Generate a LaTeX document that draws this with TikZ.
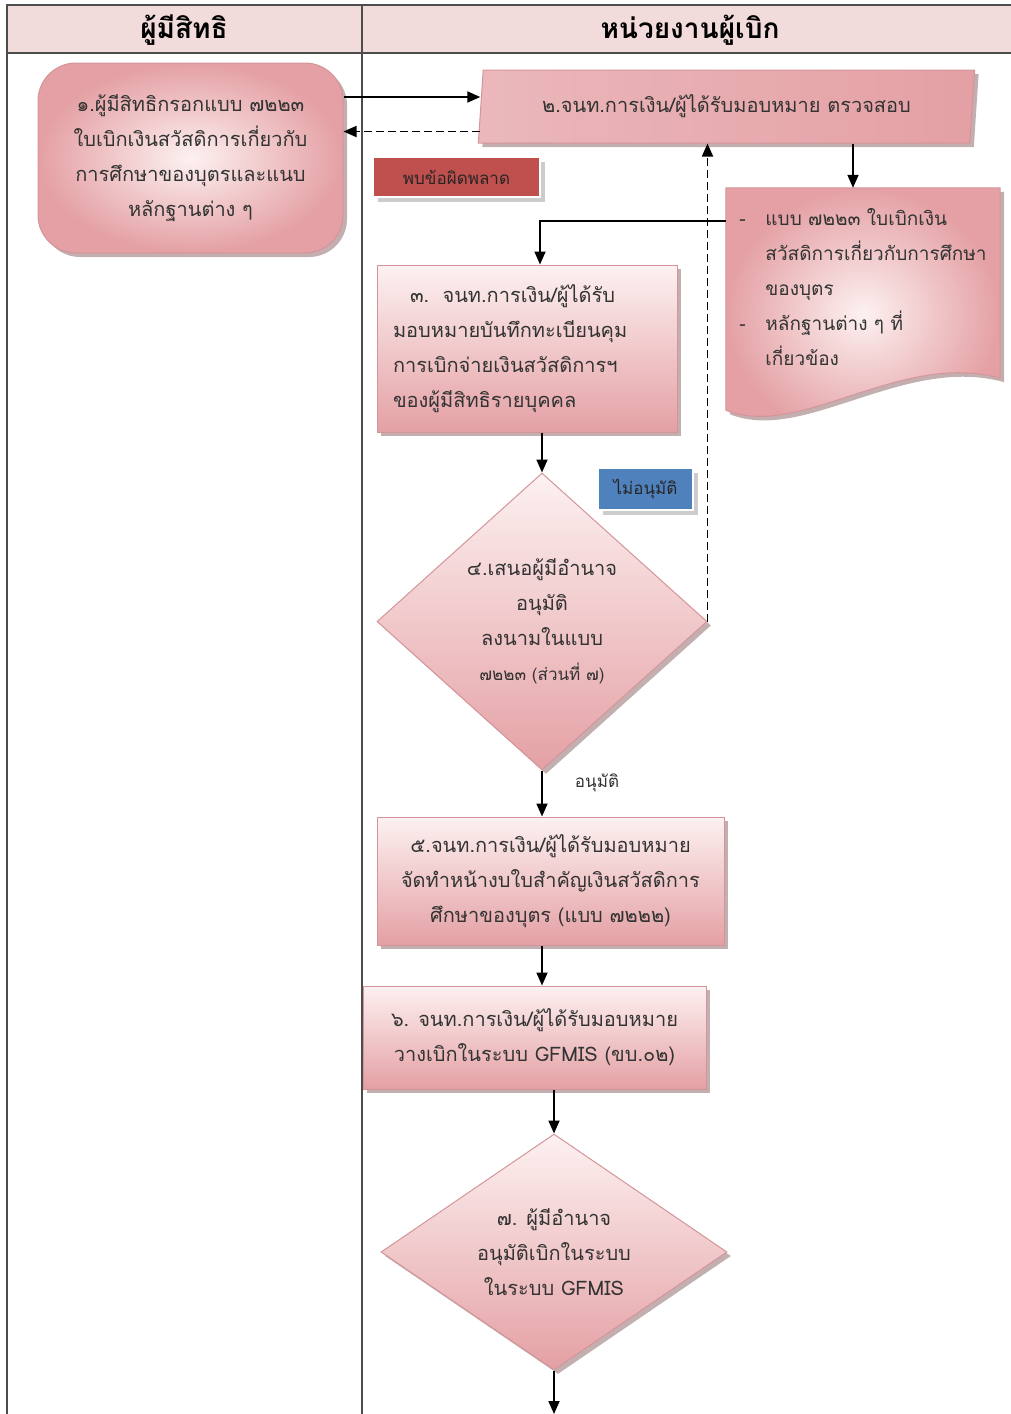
\documentclass[tikz,border=0pt]{standalone}
\usepackage{fontspec}
\setmainfont[Script=Thai]{Loma}
\usetikzlibrary{shapes.geometric,shadows,arrows.meta,backgrounds}
\definecolor{lanegray}{HTML}{4D4D4D}
\definecolor{headpink}{HTML}{F2DCDB}
\definecolor{pinkhi}{HTML}{FDF1F1}
\definecolor{pinklo}{HTML}{E4A0A4}
\definecolor{pinkline}{HTML}{D4959A}
\definecolor{errred}{HTML}{C0504D}
\definecolor{nogblue}{HTML}{4F81BD}
\definecolor{inkgray}{HTML}{333333}
\begin{document}
\begin{tikzpicture}[x=1pt, y=-1pt, >={Triangle[length=13pt,width=11pt]},
    box/.style={draw=pinkline, line width=1pt, top color=pinkhi, bottom color=pinklo, text=inkgray,
        font=\fontsize{20}{35}\selectfont, align=center,
        drop shadow={shadow xshift=4pt, shadow yshift=-4pt, fill=pinklo!60!black, opacity=.5}},
    decision/.style={box, diamond, inner sep=0pt},
    tag/.style={draw=white, line width=2pt, text=black!85, font=\fontsize{17}{20}\selectfont,
        drop shadow={shadow xshift=5pt, shadow yshift=-5pt, fill=black!40, opacity=.5}},
    flow/.style={->, line width=1.8pt},
    back/.style={flow, dash pattern=on 8pt off 4pt}]
\useasboundingbox (0,0) rectangle (1011,1414);
\fill[headpink] (7,5) rectangle (1011,53);
\draw[lanegray, line width=1.2pt] (1011,5) -- (7,5) -- (7,1414) (7,53) -- (1011,53) (362,5) -- (362,1414);
\node (lane1) at (184,30) [font=\fontsize{28}{30}\selectfont\bfseries] {ผู้มีสิทธิ};
\node (lane2) at (690,30) [font=\fontsize{28}{30}\selectfont\bfseries] {หน่วยงานผู้เบิก};

\node (form) at (190.5,158) [box, rounded corners=38pt, inner color=pinkhi, outer color=pinklo,
    minimum width=305pt, minimum height=190pt]
    {๑.ผู้มีสิทธิกรอกแบบ ๗๒๒๓\\ใบเบิกเงินสวัสดิการเกี่ยวกับ\\การศึกษาของบุตรและแนบ\\หลักฐานต่าง ๆ};
\node (check) at (726.5,106.5) [box, trapezium, trapezium left angle=81, trapezium right angle=99,
    trapezium stretches=true, minimum width=497pt, minimum height=73pt, inner sep=0pt,
    left color=pinklo!75!white, middle color=pinkhi, right color=pinklo]
    {๒.จนท.การเงิน/ผู้ได้รับมอบหมาย ตรวจสอบ};
\node (errtag) at (456.5,177) [tag, fill=errred, minimum width=167pt, minimum height=40pt] {พบข้อผิดพลาด};

\node (docs) at (863,304) [minimum width=274pt, minimum height=232pt, align=left, text=inkgray,
    font=\fontsize{19}{35}\selectfont]
    {\makebox[26pt][l]{-}แบบ ๗๒๒๓ ใบเบิกเงิน\\\hspace*{26pt}สวัสดิการเกี่ยวกับการศึกษา\\\hspace*{26pt}ของบุตร\\
     \makebox[26pt][l]{-}หลักฐานต่าง ๆ ที่\\\hspace*{26pt}เกี่ยวข้อง\\\mbox{}};
\begin{scope}[on background layer]
    \path[draw=pinkline, line width=1pt, inner color=pinkhi, outer color=pinklo,
        drop shadow={shadow xshift=4pt, shadow yshift=-4pt, fill=pinklo!60!black, opacity=.5}]
        (docs.north west) -- (docs.north east) -- ([yshift=42pt]docs.south east)
        .. controls ([xshift=-100pt,yshift=70pt]docs.south east) and ([xshift=74pt,yshift=-20pt]docs.south west)
        .. ([yshift=10pt]docs.south west) -- cycle;
\end{scope}

\node (record) at (527,348.5) [box, align=left, inner xsep=16pt, text width=268pt, minimum height=167pt]
    {\hspace*{17pt}๓.\ \ จนท.การเงิน/ผู้ได้รับ\\มอบหมายบันทึกทะเบียนคุม\\การเบิกจ่ายเงินสวัสดิการฯ\\ของผู้มีสิทธิรายบุคคล};
\node (approve) at (542,621.5) [decision, aspect=1.11, minimum width=330pt, minimum height=297pt]
    {๔.เสนอผู้มีอำนาจ\\อนุมัติ\\ลงนามในแบบ\\{\fontsize{17}{20}\selectfont ๗๒๒๓ (ส่วนที่ ๗)}};
\node (notag) at (645.5,489) [tag, fill=nogblue, minimum width=95pt, minimum height=42pt] {ไม่อนุมัติ};
\node (yeslabel) at (597,783) [text=inkgray, font=\fontsize{17}{20}\selectfont] {อนุมัติ};
\node (voucher) at (550.5,881) [box, minimum width=347pt, minimum height=128pt]
    {๕.จนท.การเงิน/ผู้ได้รับมอบหมาย\\จัดทำหน้างบใบสำคัญเงินสวัสดิการ\\ศึกษาของบุตร (แบบ ๗๒๒๒)};
\node (submit) at (534.5,1037.5) [box, minimum width=343pt, minimum height=103pt]
    {๖. จนท.การเงิน/ผู้ได้รับมอบหมาย\\วางเบิกในระบบ GFMIS (ขบ.๐๒)};
\node (authorize) at (554,1252) [decision, aspect=1.46, minimum width=346pt, minimum height=236pt]
    {๗. ผู้มีอำนาจ\\อนุมัติเบิกในระบบ\\ในระบบ GFMIS};

\coordinate (ret) at ([yshift=-25pt]check.west);
\coordinate (down) at ([xshift=-10pt]docs.north);
\coordinate (exit) at (557,1414);
\draw[flow] ([yshift=61pt]form.east) -- ([yshift=61pt]form.east -| check.west);
\draw[back] (ret) -- (ret -| form.east);
\draw[flow] (down |- check.south) -- (down);
\draw[flow] ([yshift=83pt]docs.west) -| ([xshift=13pt]record.north);
\draw[flow] (approve.north |- record.south) -- (approve.north);
\draw[back] (approve.east) -- (approve.east |- check.south);
\draw[flow] (approve.south) -- (approve.south |- voucher.north);
\draw[flow] (approve.south |- voucher.south) -- (approve.south |- submit.north);
\draw[flow] (authorize.north |- submit.south) -- (authorize.north);
\draw[flow] (authorize.south) -- (authorize.south |- exit);
\end{tikzpicture}
\end{document}
